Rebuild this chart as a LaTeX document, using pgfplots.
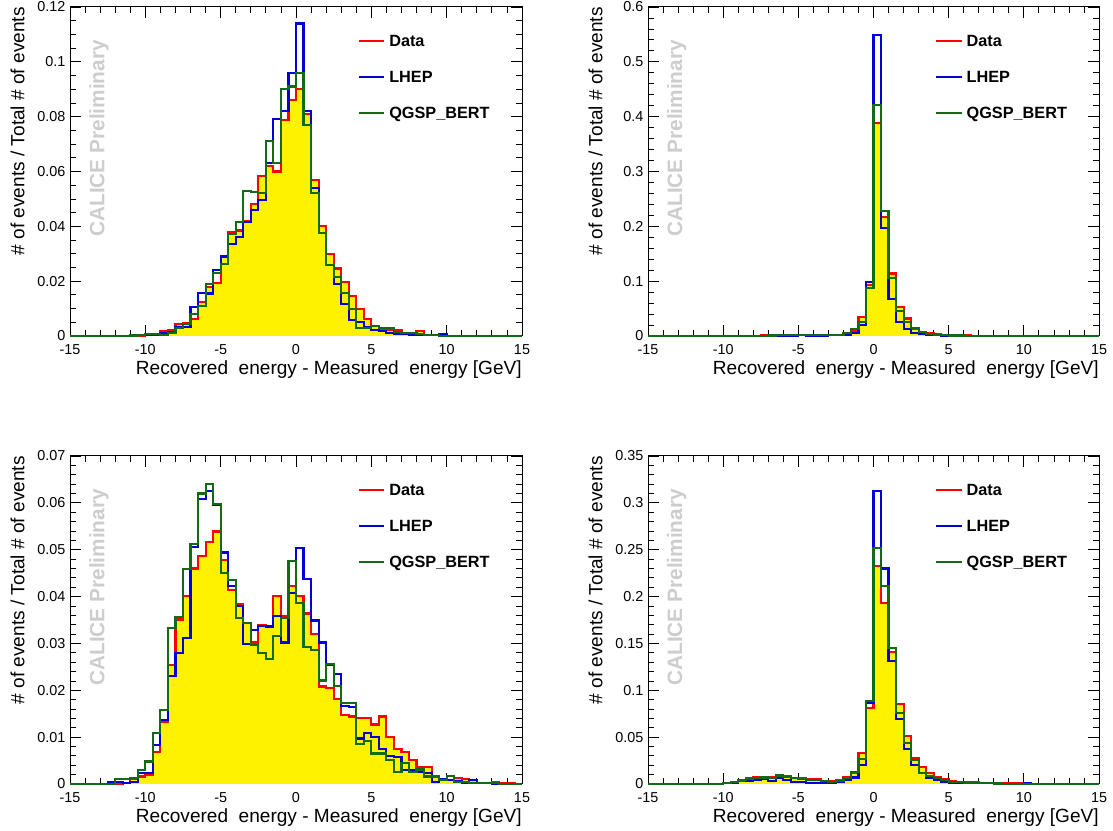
\documentclass[border=0pt]{standalone}
\usepackage{fontspec}
\setmainfont{Liberation Sans}
\usepackage{pgfplots}
\usepackage{pgfplotstable}
\pgfplotsset{compat=1.18}
\definecolor{hblue}{RGB}{0,0,215}
\definecolor{hgreen}{RGB}{20,105,20}
\definecolor{wm}{RGB}{205,205,205}

% x: bin left edge; d: Data; l: LHEP; q: QGSP_BERT
\pgfplotstableread{
x d l q
-15 0 0 0
-14.5 0 0 0
-14 0 0 0
-13.5 0 0 0
-13 0 0 0
-12.5 0 0 0
-12 0 0 0
-11.5 0 0 0
-11 0 0 0.0002
-10.5 0 0.0003 0.0005
-10 0.0003 0.0003 0.0008
-9.5 0.0008 0.0005 0.0008
-9 0.0018 0.0012 0.0005
-8.5 0.0022 0.0015 0.0012
-8 0.0045 0.0032 0.003
-7.5 0.0046 0.0032 0.0045
-7 0.0062 0.0107 0.008
-6.5 0.0125 0.0158 0.011
-6 0.018 0.0155 0.019
-5.5 0.0194 0.024 0.023
-5 0.029 0.029 0.0264
-4.5 0.038 0.0337 0.0373
-4 0.0385 0.036 0.0416
-3.5 0.042 0.0416 0.053
-3 0.048 0.0458 0.0525
-2.5 0.0585 0.0495 0.052
-2 0.062 0.063 0.071
-1.5 0.060 0.079 0.063
-1 0.0788 0.082 0.090
-0.5 0.086 0.096 0.091
0 0.090 0.114 0.096
0.5 0.081 0.082 0.077
1 0.057 0.054 0.052
1.5 0.040 0.0377 0.0377
2 0.030 0.0258 0.0258
2.5 0.0246 0.019 0.0216
3 0.0198 0.0116 0.0158
3.5 0.0147 0.0058 0.010
4 0.010 0.0052 0.0028
4.5 0.0062 0.0034 0.0028
5 0.0036 0.0022 0.0035
5.5 0.0025 0.0018 0.0029
6 0.0022 0.001 0.003
6.5 0.0022 0.0008 0.0015
7 0.001 0.0008 0.0011
7.5 0.0008 0.0005 0.0011
8 0.0018 0.0005 0.0008
8.5 0.0005 0.0005 0.0005
9 0.0003 0.0003 0.0003
9.5 0.0003 0.0008 0
10 0 0 0
10.5 0 0 0
11 0 0 0
11.5 0 0 0
12 0 0 0
12.5 0 0 0
13 0 0 0
13.5 0 0 0
14 0 0 0
14.5 0 0 0
15 0 0 0
}\tabA

\pgfplotstableread{
x d l q
-15 0 0 0
-14.5 0 0 0
-14 0 0 0
-13.5 0 0 0
-13 0 0 0
-12.5 0 0 0
-12 0 0 0
-11.5 0 0 0
-11 0 0 0
-10.5 0 0 0
-10 0 0 0
-9.5 0 0 0
-9 0 0 0
-8.5 0.0003 0 0
-8 0.0005 0.0005 0.0005
-7.5 0.001 0.0005 0.0005
-7 0.001 0.001 0.001
-6.5 0.0015 0.001 0.0012
-6 0.002 0.001 0.0015
-5.5 0.0015 0.001 0.0015
-5 0.002 0.0012 0.0015
-4.5 0.0015 0.001 0.0015
-4 0.002 0.001 0.0012
-3.5 0.0015 0.001 0.0015
-3 0.002 0.0012 0.0015
-2.5 0.002 0.0015 0.0025
-2 0.003 0.0015 0.005
-1.5 0.009 0.005 0.012
-1 0.035 0.020 0.025
-0.5 0.093 0.099 0.088
0 0.388 0.549 0.422
0.5 0.217 0.197 0.228
1 0.114 0.068 0.105
1.5 0.053 0.026 0.046
2 0.032 0.012 0.026
2.5 0.012 0.006 0.014
3 0.006 0.003 0.008
3.5 0.005 0.002 0.004
4 0.003 0.0015 0.002
4.5 0.002 0.001 0.0015
5 0.0015 0.0008 0.001
5.5 0.001 0.0005 0.0008
6 0.0015 0.0005 0.0005
6.5 0.0005 0.0005 0.0005
7 0.0005 0.0003 0.0005
7.5 0.0005 0.0003 0.0003
8 0.0003 0 0
8.5 0 0 0
9 0 0 0
9.5 0 0 0
10 0 0 0
10.5 0 0 0
11 0 0 0
11.5 0 0 0
12 0 0 0
12.5 0 0 0
13 0 0 0
13.5 0 0 0
14 0 0 0
14.5 0 0 0
15 0 0 0
}\tabB

\pgfplotstableread{
x d l q
-15 0 0 0
-14.5 0 0 0
-14 0 0 0
-13.5 0 0 0
-13 0 0 0
-12.5 0 0.0005 0
-12 0 0.0005 0.001
-11.5 0.0003 0.0003 0.001
-11 0.001 0.0005 0.0013
-10.5 0.0016 0.0023 0.003
-10 0.0019 0.0023 0.0048
-9.5 0.0069 0.0083 0.0108
-9 0.0133 0.0137 0.0158
-8.5 0.0254 0.023 0.0332
-8 0.0351 0.0279 0.0357
-7.5 0.0401 0.0311 0.0459
-7 0.046 0.0506 0.0512
-6.5 0.0487 0.0608 0.062
-6 0.0517 0.0625 0.064
-5.5 0.0539 0.0595 0.0598
-5 0.0478 0.0494 0.0451
-4.5 0.0414 0.0423 0.0435
-4 0.0384 0.038 0.0354
-3.5 0.0343 0.0299 0.0343
-3 0.0302 0.0329 0.0297
-2.5 0.0339 0.0337 0.0279
-2 0.0336 0.0336 0.0266
-1.5 0.0401 0.0359 0.0316
-1 0.0359 0.0302 0.0354
-0.5 0.0423 0.0408 0.0476
0 0.0401 0.0503 0.0387
0.5 0.0364 0.0437 0.0293
1 0.032 0.0349 0.0286
1.5 0.0208 0.0302 0.0221
2 0.0204 0.0254 0.0256
2.5 0.0181 0.0235 0.0209
3 0.0147 0.0166 0.0172
3.5 0.0144 0.0164 0.0172
4 0.014 0.0097 0.0085
4.5 0.014 0.0108 0.0092
5 0.0127 0.010 0.0065
5.5 0.0144 0.0074 0.0065
6 0.0101 0.006 0.0051
6.5 0.0075 0.0057 0.0026
7 0.0069 0.003 0.0044
7.5 0.0051 0.0029 0.0026
8 0.0037 0.0025 0.0031
8.5 0.0037 0.0023 0.0016
9 0.0016 0.0005 0.0017
9.5 0.001 0.001 0.0009
10 0.0009 0.0008 0.0017
10.5 0.0012 0.0006 0.0005
11 0.001 0.0003 0.0005
11.5 0.0008 0.0008 0.0003
12 0.0003 0.0003 0.0003
12.5 0.0003 0.0002 0.0003
13 0.0005 0 0.0003
13.5 0.0003 0 0
14 0.0001 0 0
14.5 0 0 0
15 0 0 0
}\tabC

\pgfplotstableread{
x d l q
-15 0 0 0
-14.5 0 0 0
-14 0 0 0
-13.5 0 0 0
-13 0 0 0
-12.5 0 0 0
-12 0 0 0
-11.5 0 0 0
-11 0 0 0
-10.5 0.0003 0.0003 0.0003
-10 0.0007 0.0007 0.0007
-9.5 0.0015 0.0015 0.0025
-9 0.003 0.004 0.004
-8.5 0.006 0.0035 0.005
-8 0.0078 0.004 0.006
-7.5 0.007 0.005 0.007
-7 0.007 0.0035 0.0065
-6.5 0.007 0.007 0.009
-6 0.0085 0.004 0.0078
-5.5 0.006 0.0025 0.006
-5 0.006 0.0025 0.005
-4.5 0.005 0.0014 0.004
-4 0.005 0.0007 0.004
-3.5 0.0035 0.0007 0.0035
-3 0.003 0.0014 0.0025
-2.5 0.004 0.0025 0.003
-2 0.0078 0.004 0.006
-1.5 0.012 0.007 0.013
-1 0.033 0.020 0.027
-0.5 0.081 0.086 0.089
0 0.2327 0.313 0.2515
0.5 0.193 0.230 0.211
1 0.141 0.1316 0.1448
1.5 0.0854 0.069 0.076
2 0.051 0.037 0.044
2.5 0.0274 0.020 0.0256
3 0.0185 0.0114 0.012
3.5 0.012 0.006 0.0085
4 0.007 0.004 0.006
4.5 0.005 0.0025 0.004
5 0.0035 0.0015 0.0025
5.5 0.0025 0.0012 0.002
6 0.002 0.001 0.0015
6.5 0.002 0.001 0.001
7 0.0015 0.0008 0.001
7.5 0.0015 0.0008 0.0008
8 0.0012 0.0005 0.0005
8.5 0.001 0.0003 0.0003
9 0.0008 0.0003 0.0003
9.5 0.0005 0.0003 0
10 0.0003 0.0005 0
10.5 0.0003 0.0003 0
11 0.0002 0 0
11.5 0 0 0
12 0 0 0
12.5 0 0 0
13 0 0 0
13.5 0 0 0
14 0 0 0
14.5 0 0 0
15 0 0 0
}\tabD

\pgfplotsset{
  calice/.style={
    scale only axis,
    xmin=-15, xmax=15, ymin=0,
    xtick={-15,-10,-5,0,5,10,15},
    minor x tick num=4,
    tick align=inside,
    major tick length=8.5pt,
    minor tick length=4.5pt,
    every tick/.style={black, line width=0.6pt},
    axis line style={line width=0.75pt},
    ticklabel style={font=\fontsize{10.8}{12}\selectfont},
    xticklabel style={yshift=-3pt},
    /pgf/number format/assume math mode=true,
    scaled y ticks=false,
    yticklabel style={/pgf/number format/fixed, /pgf/number format/precision=3},
    xlabel={Recovered\ \ energy - Measured\ \ energy [GeV]},
    ylabel={\# of events / Total \# of events},
    label style={font=\fontsize{14.3}{16}\selectfont},
    xlabel style={at={(rel axis cs:1,0)}, anchor=north east, inner sep=0pt, yshift=-18pt},
    ylabel style={at={(rel axis cs:-0.1,1)}, anchor=south east, inner sep=0pt},
    clip=false,
    legend image code/.code={\draw[#1, line width=1.6pt] (0pt,0pt) -- (19.3pt,0pt);},
    legend cell align=left,
    legend style={at={(rel axis cs:0.627,0.923)}, anchor=north west, draw=none, fill=none,
      font=\bfseries\fontsize{12.2}{14}\selectfont, row sep=18.2pt,
      nodes={inner sep=0pt, text height=8.8pt, text depth=0pt},
      cells={anchor=west},
      /tikz/every odd column/.append style={column sep=2.8pt}},
  },
  hline/.style={const plot, line width=1.6pt},
}

\newcommand{\histos}[1]{%
  \addplot[const plot, fill=yellow, draw=none, forget plot] table[x=x, y=d] {#1} \closedcycle;
  \addplot[hline, red] table[x=x, y=d] {#1};
  \addplot[hline, hblue] table[x=x, y=l] {#1};
  \addplot[hline, hgreen] table[x=x, y=q] {#1};
  \legend{Data, LHEP, QGSP\_BERT}
  \node[rotate=90, anchor=east, inner sep=0pt, text=wm, font=\bfseries\fontsize{15.6}{18}\selectfont]
    at (rel axis cs:0.064,0.9) {CALICE Preliminary};
}

\begin{document}
\begin{tikzpicture}
\useasboundingbox (0,0) rectangle (834.75pt,623.25pt);

\begin{axis}[calice, at={(52.5pt,371.25pt)}, anchor=south west,
  width=339pt, height=246.75pt, ymax=0.12,
  ytick={0,0.02,0.04,0.06,0.08,0.1,0.12}, minor y tick num=3]
\histos{\tabA}
\end{axis}

\begin{axis}[calice, at={(486pt,371.25pt)}, anchor=south west,
  width=338.25pt, height=246.75pt, ymax=0.6,
  ytick={0,0.1,0.2,0.3,0.4,0.5,0.6}, minor y tick num=4]
\histos{\tabB}
\end{axis}

\begin{axis}[calice, at={(52.5pt,35.25pt)}, anchor=south west,
  width=339pt, height=246pt, ymax=0.07,
  ytick={0,0.01,0.02,0.03,0.04,0.05,0.06,0.07}, minor y tick num=4]
\histos{\tabC}
\end{axis}

\begin{axis}[calice, at={(486pt,35.25pt)}, anchor=south west,
  width=338.25pt, height=246pt, ymax=0.35,
  ytick={0,0.05,0.1,0.15,0.2,0.25,0.3,0.35}, minor y tick num=4]
\histos{\tabD}
\end{axis}
\end{tikzpicture}
\end{document}
